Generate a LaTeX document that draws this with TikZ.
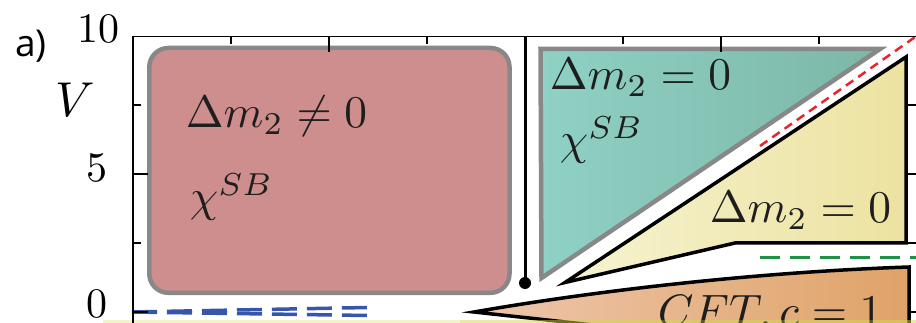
\documentclass[tikz,border=0pt]{standalone}
\usepackage{fontspec}
\newfontfamily\labfont{Open Sans}
\definecolor{redfill}{RGB}{207,142,142}
\definecolor{boxgray}{RGB}{136,136,136}
\definecolor{tealL}{RGB}{143,209,197}
\definecolor{tealR}{RGB}{124,183,167}
\definecolor{yelL}{RGB}{246,243,208}
\definecolor{yelR}{RGB}{236,226,160}
\definecolor{oraL}{RGB}{238,198,172}
\definecolor{oraR}{RGB}{223,163,104}
\definecolor{txtcol}{RGB}{30,30,30}
\definecolor{dashred}{RGB}{235,35,45}
\definecolor{dashgreen}{RGB}{30,145,70}
\definecolor{dashblue}{RGB}{55,85,170}
\definecolor{stripcol}{RGB}{215,215,80}
\begin{document}
\begin{tikzpicture}[x=1pt,y=-1pt,
  mtxt/.style={inner sep=0pt, anchor=base west, text=txtcol, scale=4.54},
  numlab/.style={inner sep=0pt, anchor=base east, text=black, scale=4.2},
  majtick/.style={line width=1.1pt},
  mintick/.style={line width=1.1pt},
  outline/.style={line width=3.5pt, draw=black, line join=miter, miter limit=25}]
\path[use as bounding box] (0,0) rectangle (916,323);
\clip (0,0) rectangle (916,323);
% red box
\draw[boxgray, line width=4.5pt, fill=redfill, rounded corners=19pt] (149.3,48) rectangle (509.5,292.8);
% teal triangle
\path[draw=boxgray, line width=4.5pt, line join=miter, left color=tealL, right color=tealR] (540.5,49) -- (880,49) -- (541.5,278) -- cycle;
% yellow region
\path[outline, left color=yelL, right color=yelR] (906,57) -- (906,243) -- (735,243) -- (565,282.5) -- cycle;
% orange region
\path[outline, left color=oraL, right color=oraR] (474,312) .. controls (600,290) and (760,272) .. (909,267) -- (909,345) -- (776,345) -- cycle;
% bottom strip
\fill[stripcol, opacity=0.3] (103,320) rectangle (916,323);
% dashed lines
\coordinate (r1) at (760,146); \coordinate (r2) at (918,35);
\draw[dashred, line width=2.5pt, dash pattern=on 9pt off 6pt] (r1) -- (r2);
\coordinate (g1) at (760,258); \coordinate (g2) at (916,258);
\draw[dashgreen, line width=3pt, dash pattern=on 20pt off 10pt] (g1) -- (g2);
\coordinate (b0) at (132,312); \coordinate (b1) at (368,307.5); \coordinate (b2) at (368,315.5);
\draw[dashblue, line width=3.5pt, dash pattern=on 25pt off 10pt] (b0) -- (b1);
\draw[dashblue, line width=3.5pt, dash pattern=on 25pt off 10pt] (b0) -- (b2);
% vertical black line with dot
\coordinate (vtop) at (525,36.7);
\node[circle, fill=black, inner sep=0pt, minimum size=12pt] (dot) at (525,283) {};
\draw[line width=3pt] (vtop) -- (dot.center);
% frame
\coordinate (tl) at (133,36.7); \coordinate (tr) at (916,36.7); \coordinate (bl) at (133,323);
\draw[line width=1.2pt] (tr) -- (tl) -- (bl);
% left ticks
\foreach \yy/\ll in {174/15, 312/15, 105/8, 243/8} {\draw[majtick] (133,\yy) -- ++(\ll,0);}
% right ticks
\foreach \yy in {105,174,243,312} {\draw[mintick] (916,\yy) -- ++(-8,0);}
% top ticks
\foreach \xx/\ll in {329/15, 721/15, 231/7, 427/7, 623/7, 819/7} {\draw[majtick] (\xx,36.7) -- ++(0,\ll);}
% axis labels
\node[numlab] (l10) at (120,43) {10};
\node[numlab] (l5) at (108,182) {5};
\node[numlab] (l0) at (108,317) {0};
\node[inner sep=0pt, anchor=base west, scale=4.9] (vlab) at (55,117) {$V$};
\node[inner sep=0pt, anchor=base west, font=\labfont\fontsize{37}{40}\selectfont] (alab) at (15,57) {a)};
% region texts
\node[mtxt] (redt1) at (185,128) {$\Delta m_2 \neq 0$};
\node[mtxt] (redt2) at (189,212) {$\chi^{SB}$};
\node[mtxt] (teat1) at (549,90) {$\Delta m_2 = 0$};
\node[mtxt] (teat2) at (559,155) {$\chi^{SB}$};
\node[mtxt] (yelt) at (709,223) {$\Delta m_2 = 0$};
\node[mtxt] (orat) at (657,326) {$CFT, c = 1$};
% strip over text
\fill[stripcol, opacity=0.3] (460,320) rectangle (916,323);
\end{tikzpicture}
\end{document}
